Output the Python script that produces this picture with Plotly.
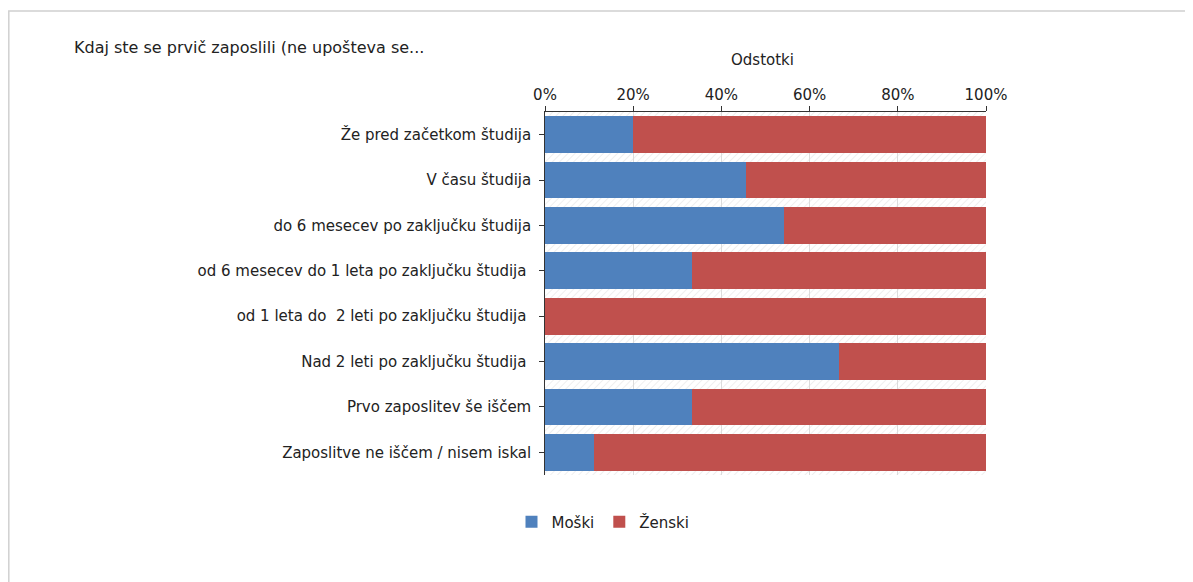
import base64
import plotly.graph_objects as go

categories = [
    "Že pred začetkom študija",
    "V času študija",
    "do 6 mesecev po zaključku študija",
    "od 6 mesecev do 1 leta po zaključku študija\u00a0",
    "od 1 leta do \u00a02 leti po zaključku študija\u00a0",
    "Nad 2 leti po zaključku študija\u00a0",
    "Prvo zaposlitev še iščem",
    "Zaposlitve ne iščem / nisem iskal",
]
moski = [20.0, 45.5, 54.2, 33.3, 0.0, 66.7, 33.3, 11.1]
zenski = [80.0, 54.5, 45.8, 66.7, 100.0, 33.3, 66.7, 88.9]
tick_vals = [0, 20, 40, 60, 80, 100]
tick_text = ["0%", "20%", "40%", "60%", "80%", "100%"]

# page has an 8px body margin, so work in shifted coordinates
OFF = 8
W, H = 1193 - OFF, 582 - OFF
L, R, T, B = 545 - OFF, 986 - OFF, 112 - OFF, 475 - OFF

FONT = "DejaVu Sans"

fig = go.Figure()
fig.add_trace(go.Bar(y=categories, x=moski, name="Moški", orientation="h",
                     marker=dict(color="#4F81BD", line=dict(width=0))))
fig.add_trace(go.Bar(y=categories, x=zenski, name="Ženski", orientation="h",
                     marker=dict(color="#C0504D", line=dict(width=0))))

def px_x(x):
    return (x - OFF - L) / (R - L)

def px_y(y):
    return (B - (y - OFF)) / (B - T)

pw, ph = R - L, B - T
svg = (f'<svg xmlns="http://www.w3.org/2000/svg" width="{pw}" height="{ph}">'
       '<defs><pattern id="h" width="5" height="5" patternUnits="userSpaceOnUse" '
       'patternTransform="rotate(45)"><line x1="0" y1="0" x2="0" y2="5" '
       'stroke="#e4e4e4" stroke-width="1.2"/></pattern></defs>'
       f'<rect width="{pw}" height="{ph}" fill="white"/>'
       f'<rect width="{pw}" height="{ph}" fill="url(#h)"/></svg>')
svg_uri = "data:image/svg+xml;base64," + base64.b64encode(svg.encode()).decode()

fig.update_layout(
    width=W, height=H,
    margin=dict(l=L, r=W - R, t=T, b=H - B),
    paper_bgcolor="white", plot_bgcolor="rgba(0,0,0,0)",
    barmode="stack", bargap=0.19,
    font=dict(family=FONT, size=15, color="#222222"),
    showlegend=True,
    legend=dict(orientation="h", x=px_x(603), y=px_y(522), xanchor="center", yanchor="middle",
                font=dict(size=15), traceorder="normal"),
    xaxis=dict(side="top", range=[0, 100], tickvals=tick_vals, ticktext=tick_text,
               showline=True, linecolor="#333333", linewidth=1, mirror=False,
               ticks="outside", ticklen=5, tickcolor="#333333",
               showgrid=True, gridcolor="#dcdcdc", gridwidth=1, zeroline=False,
               tickfont=dict(size=15)),
    yaxis=dict(autorange="reversed", showline=True, linecolor="#333333", linewidth=1,
               ticks="outside", ticklen=5, tickcolor="#333333", showgrid=False,
               tickfont=dict(size=15), ticksuffix=" "),
    images=[dict(source=svg_uri, xref="paper", yref="paper", x=0, y=1, sizex=1, sizey=1,
                 xanchor="left", yanchor="top", sizing="stretch", layer="below")],
    annotations=[
        dict(text="Kdaj ste se prvič zaposlili (ne upošteva se...", xref="paper", yref="paper",
             x=px_x(72), y=px_y(47), xanchor="left", yanchor="middle", showarrow=False,
             font=dict(size=16, family=FONT, color="#222222")),
        dict(text="Odstotki", xref="paper", yref="paper", x=px_x(762), y=px_y(60),
             xanchor="center", yanchor="middle", showarrow=False,
             font=dict(size=15, family=FONT, color="#222222")),
    ],
    shapes=[
        dict(type="rect", xref="paper", yref="paper", x0=px_x(8.8), x1=px_x(1205),
             y0=px_y(600), y1=px_y(11), line=dict(color="#d0d0d0", width=1.5), layer="below"),
    ],
)

fig.write_html("out.html")
